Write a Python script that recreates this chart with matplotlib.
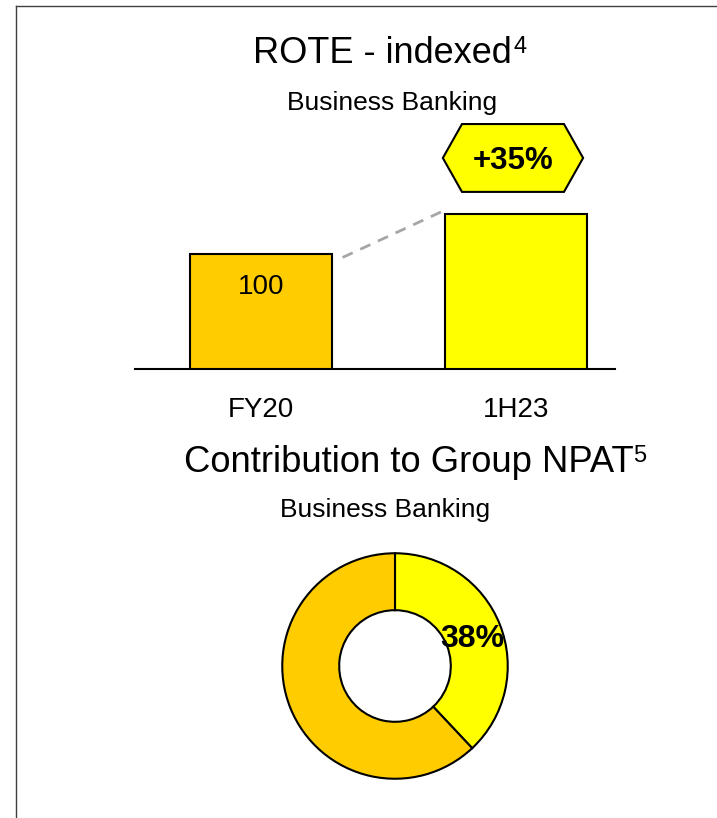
import math
import matplotlib.pyplot as plt
from matplotlib.patches import Polygon
from matplotlib.lines import Line2D

plt.rcParams['font.family'] = ['Liberation Sans', 'DejaVu Sans']

# data
periods = ["FY20", "1H23"]
rote_index = [100, 135]
bar_colors = ["#FFCC00", "#FFFF00"]
growth_label = "+35%"

npat_labels = ["Business Banking", "Rest of Group"]
npat_share = [38, 62]
npat_colors = ["#FFFF00", "#FFCC00"]

W, H = 717, 818
fig = plt.figure(figsize=(W / 100, H / 100), dpi=100)


def fx(px):
    return px / W


def fy(py):
    return 1 - py / H


# slide frame
fig.add_artist(Line2D([fx(16), 1], [fy(6), fy(6)], color="#404040", lw=1))
fig.add_artist(Line2D([fx(16), fx(16)], [fy(6), 0], color="#404040", lw=1))

# titles (superscripts as separate small text)
fig.text(fx(253), fy(63), "ROTE - indexed", ha="left", va="baseline", fontsize=26)
fig.text(fx(513), fy(53), "4", ha="left", va="baseline", fontsize=17)
fig.text(fx(392), fy(103), "Business Banking", ha="center", va="center", fontsize=19)
fig.text(fx(184), fy(472), "Contribution to Group NPAT", ha="left", va="baseline", fontsize=26.2)
fig.text(fx(633), fy(462), "5", ha="left", va="baseline", fontsize=17)
fig.text(fx(385), fy(510), "Business Banking", ha="center", va="center", fontsize=19)

# bar chart
ax = fig.add_axes([fx(135), fy(369), (615 - 135) / W, (369 - 110) / H])
x = list(range(len(periods)))
bw = 0.56
ax.bar(x, rote_index, width=bw, color=bar_colors, edgecolor="black", linewidth=1.5, zorder=3)
ax.set_xlim(-0.494, 1.388)
ax.set_ylim(0, (369 - 110) / 1.15)
for s in ["top", "right", "left"]:
    ax.spines[s].set_visible(False)
ax.spines["bottom"].set_linewidth(1.5)
ax.set_yticks([])
ax.set_xticks(x)
ax.set_xticklabels(periods, fontsize=20)
ax.tick_params(axis="x", length=0, pad=20)
ax.patch.set_alpha(0)

# value label inside first bar
ax.text(x[0], rote_index[0] - 29, str(rote_index[0]), ha="center", va="center", fontsize=20)

# dashed connector
ax.plot([x[0] + bw / 2 + 0.04, x[1] - bw / 2 - 0.01],
        [rote_index[0] - 3, rote_index[1] + 2],
        ls=(0, (4, 3)), color="#A6A6A6", lw=2, zorder=2)

# hexagon callout
cx, cy = x[1] - 0.012, rote_index[1] + 48.5
hw, hh, tip = 0.275, 29.5, 0.075
hexagon = Polygon([(cx - hw, cy), (cx - hw + tip, cy + hh), (cx + hw - tip, cy + hh),
                   (cx + hw, cy), (cx + hw - tip, cy - hh), (cx - hw + tip, cy - hh)],
                  closed=True, facecolor="#FFFF00", edgecolor="black", lw=1.5,
                  clip_on=False, zorder=4)
ax.add_patch(hexagon)
ax.text(cx, cy - 2.5, growth_label, ha="center", va="center", fontsize=22.5, fontweight="bold", zorder=5)

# donut
R = 115
ax2 = fig.add_axes([fx(395 - R), fy(666 + R), 2 * R / W, 2 * R / H])
ax2.pie(npat_share, colors=npat_colors, startangle=90, counterclock=False, radius=1,
        wedgeprops=dict(width=0.505, edgecolor="black", linewidth=1.5))
ax2.set_xlim(-1.02, 1.02)
ax2.set_ylim(-1.02, 1.02)
ax2.set_aspect("equal")
mid = math.radians(90 - 360 * npat_share[0] / sum(npat_share) / 2)
ax2.text(0.74 * math.cos(mid), 0.64 * math.sin(mid), f"{npat_share[0]}%",
         ha="center", va="center", fontsize=23, fontweight="bold")

fig.savefig("out.png", dpi=100)
